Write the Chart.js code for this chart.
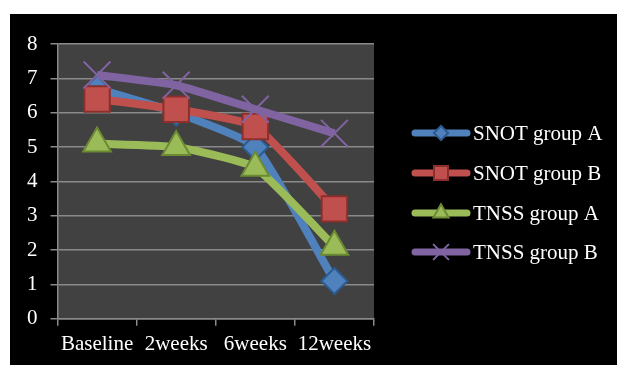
<!DOCTYPE html>
<html>
<head>
<meta charset="utf-8">
<script src="https://cdn.jsdelivr.net/npm/chart.js@4.4.1/dist/chart.umd.min.js"></script>
<style>
  html, body { margin: 0; padding: 0; background: #fff; }
  #wrap { position: absolute; left: 10px; top: 14px; width: 607px; height: 351px; background: #000; }
</style>
</head>
<body>
<div id="wrap"><canvas id="chart" width="607" height="351"></canvas></div>
<script>
// values
const timepoints = ['Baseline', '2weeks', '6weeks', '12weeks'];
const snotA = [6.7, 6.0, 5.0, 1.1];
const snotB = [6.4, 6.1, 5.6, 3.2];
const tnssA = [5.1, 5.0, 4.4, 2.1];
const tnssB = [7.1, 6.8, 6.1, 5.4];
const seriesNames = ['SNOT group A', 'SNOT group B', 'TNSS group A', 'TNSS group B'];

const FONT = "'Liberation Serif', 'Times New Roman', serif";

const series = [
    { data: snotA, color: '#4F81BD', edge: '#2c5a91', style: 'rectRot', r: 13, order: 4 },
    { data: snotB, color: '#C0504D', edge: '#8c2f2c', style: 'rect', r: 18, order: 3 },
    { data: tnssA, color: '#9BBB59', edge: '#6b8a33', style: 'triangle', r: 16, order: 2 },
    { data: tnssB, color: '#8064A2', edge: '#8064A2', style: 'crossRot', r: 19, order: 1 }
];

const plotBg = {
    id: 'plotBg',
    beforeDraw(chart) {
        const { ctx, chartArea: a } = chart;
        ctx.save();
        ctx.fillStyle = '#414141';
        ctx.fillRect(a.left, a.top, a.right - a.left, a.bottom - a.top);
        ctx.restore();
    }
};

// legend on the right: thick line sample with marker, then label
const sideLegend = {
    id: 'sideLegend',
    afterDraw(chart) {
        const ctx = chart.ctx;
        const rows = [119, 159, 199, 238];
        chart.data.datasets.forEach((ds, i) => {
            const y = rows[i];
            ctx.save();
            ctx.strokeStyle = ds.borderColor;
            ctx.lineWidth = 7;
            ctx.lineCap = 'round';
            ctx.beginPath();
            ctx.moveTo(405, y);
            ctx.lineTo(457, y);
            ctx.stroke();
            const opts = {
                pointStyle: ds.pointStyle,
                radius: ds.pointRadius * 0.55,
                borderWidth: ds.pointBorderWidth,
                rotation: 0
            };
            ctx.fillStyle = ds.pointBackgroundColor;
            ctx.strokeStyle = ds.pointBorderColor;
            ctx.lineWidth = ds.pointBorderWidth;
            Chart.helpers.drawPoint(ctx, opts, 431, y);
            ctx.fillStyle = '#fff';
            ctx.font = '21px ' + FONT;
            ctx.textBaseline = 'middle';
            ctx.textAlign = 'left';
            ctx.fillText(ds.label, 463, y + 1);
            ctx.restore();
        });
    }
};

const ctx = document.getElementById('chart').getContext('2d');

new Chart(ctx, {
    type: 'line',
    data: {
        labels: timepoints,
        datasets: series.map((s, i) => ({
            label: seriesNames[i],
            data: s.data,
            borderColor: s.color,
            borderWidth: 8,
            tension: 0.15,
            pointStyle: s.style,
            pointRadius: s.r,
            pointBackgroundColor: s.color,
            pointBorderColor: s.edge,
            pointBorderWidth: 2,
            order: s.order
        }))
    },
    options: {
        responsive: false,
        animation: false,
        layout: { padding: { left: 4, right: 243, top: 30, bottom: 2 } },
        plugins: {
            legend: { display: false },
            tooltip: { enabled: false }
        },
        scales: {
            x: {
                offset: true,
                grid: {
                    offset: true,
                    drawOnChartArea: false,
                    drawTicks: true,
                    tickLength: 7,
                    color: '#8a8a8a',
                    lineWidth: 1.5
                },
                border: { color: '#8a8a8a', width: 1.5 },
                ticks: {
                    color: '#fff',
                    padding: 6,
                    maxRotation: 0,
                    font: { family: FONT, size: 21 }
                }
            },
            y: {
                min: 0,
                max: 8,
                ticks: {
                    stepSize: 1,
                    color: '#fff',
                    padding: 13,
                    font: { family: FONT, size: 21 }
                },
                grid: {
                    color: '#8a8a8a',
                    lineWidth: 1.5,
                    tickLength: 7
                },
                border: { color: '#8a8a8a', width: 1.5 }
            }
        }
    },
    plugins: [plotBg, sideLegend]
});
</script>
</body>
</html>
